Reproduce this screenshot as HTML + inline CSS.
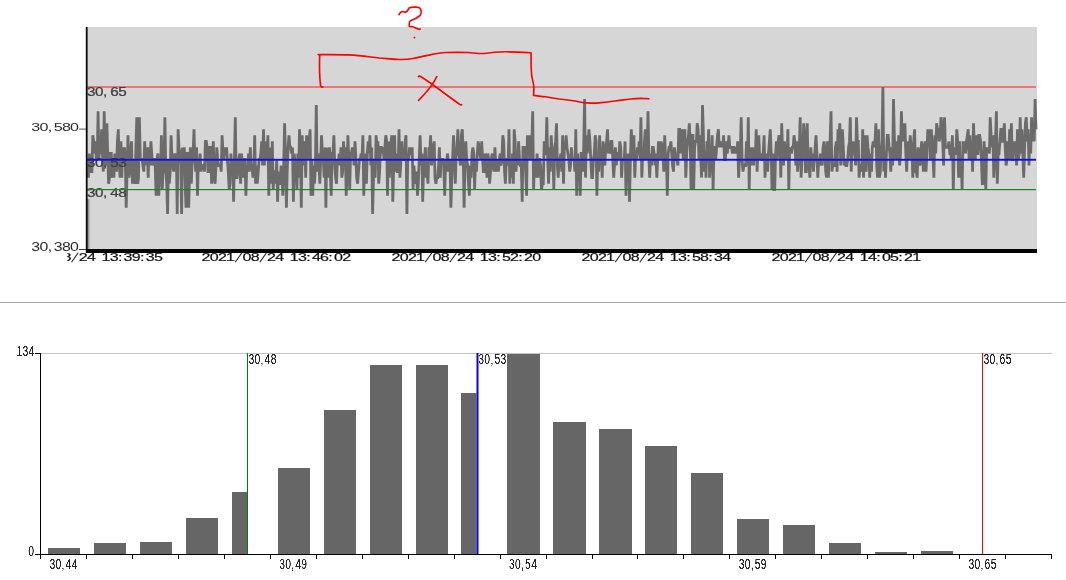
<!DOCTYPE html>
<html><head><meta charset="utf-8"><title>chart</title>
<style>
html,body{margin:0;padding:0;background:#fff;}
body{width:1066px;height:580px;overflow:hidden;font-family:"Liberation Sans",sans-serif;}
svg{display:block;position:absolute;left:0;top:0;}
text{font-family:"Liberation Sans",sans-serif;}
</style></head><body>
<svg width="1066" height="580" viewBox="0 0 1066 580">
<defs>
<clipPath id="cl"><rect x="67.2" y="245" width="1000" height="30"/></clipPath>
<linearGradient id="ag" x1="0" x2="1" y1="0" y2="0"><stop offset="0" stop-color="#000" stop-opacity="0.62"/><stop offset="0.45" stop-color="#000" stop-opacity="0.2"/><stop offset="1" stop-color="#000" stop-opacity="0"/></linearGradient>
<filter id="cr" x="-5%" y="-20%" width="110%" height="140%"><feComponentTransfer><feFuncA type="linear" slope="2.6" intercept="-0.62"/></feComponentTransfer></filter>
<filter id="bl" x="-5%" y="-50%" width="110%" height="200%"><feGaussianBlur stdDeviation="0.35"/></filter>
</defs>
<!-- top chart -->
<rect x="86" y="27" width="951" height="223" fill="#d6d6d6"/>
<line x1="87" y1="87.1" x2="1036" y2="87.1" stroke="#ec5a5a" stroke-width="1.5"/>
<polyline points="87.5,171.6 88.4,177.6 89.3,153.5 90.1,171.6 91.0,171.6 91.9,171.6 92.8,135.3 93.7,141.4 94.5,153.5 95.4,141.4 96.3,159.5 97.2,159.5 98.1,111.2 98.9,159.5 99.8,147.4 100.7,153.5 101.6,129.3 102.5,153.5 103.3,171.6 104.2,111.2 105.1,159.5 106.0,165.5 106.9,123.3 107.7,153.5 108.6,183.7 109.5,177.6 110.4,153.5 111.3,153.5 112.1,177.6 113.0,159.5 113.9,177.6 114.8,153.5 115.7,159.5 116.5,171.6 117.4,141.4 118.3,129.3 119.2,165.5 120.1,177.6 120.9,141.4 121.8,177.6 122.7,147.4 123.6,153.5 124.5,147.4 125.3,159.5 126.2,207.8 127.1,171.6 128.0,135.3 128.9,177.6 129.7,171.6 130.6,153.5 131.5,141.4 132.4,183.7 133.3,159.5 134.1,177.6 135.0,183.7 135.9,147.4 136.8,117.2 137.7,183.7 138.5,177.6 139.4,117.2 140.3,159.5 141.2,159.5 142.1,159.5 142.9,165.5 143.8,171.6 144.7,141.4 145.6,165.5 146.5,147.4 147.3,153.5 148.2,177.6 149.1,147.4 150.0,165.5 150.9,141.4 151.7,153.5 152.6,165.5 153.5,159.5 154.4,159.5 155.2,165.5 156.1,195.7 157.0,159.5 157.9,153.5 158.8,195.7 159.6,177.6 160.5,171.6 161.4,135.3 162.3,189.7 163.2,165.5 164.0,165.5 164.9,117.2 165.8,171.6 166.7,183.7 167.6,213.9 168.4,159.5 169.3,183.7 170.2,171.6 171.1,135.3 172.0,159.5 172.8,165.5 173.7,171.6 174.6,153.5 175.5,159.5 176.4,153.5 177.2,213.9 178.1,129.3 179.0,147.4 179.9,153.5 180.8,165.5 181.6,213.9 182.5,147.4 183.4,153.5 184.3,147.4 185.2,183.7 186.0,207.8 186.9,153.5 187.8,153.5 188.7,207.8 189.6,171.6 190.4,147.4 191.3,183.7 192.2,159.5 193.1,153.5 194.0,129.3 194.8,159.5 195.7,171.6 196.6,147.4 197.5,195.7 198.4,159.5 199.2,171.6 200.1,153.5 201.0,171.6 201.9,165.5 202.8,165.5 203.6,165.5 204.5,171.6 205.4,141.4 206.3,141.4 207.2,147.4 208.0,171.6 208.9,171.6 209.8,147.4 210.7,147.4 211.6,183.7 212.4,165.5 213.3,141.4 214.2,177.6 215.1,183.7 216.0,165.5 216.8,147.4 217.7,159.5 218.6,165.5 219.5,165.5 220.4,165.5 221.2,171.6 222.1,135.3 223.0,153.5 223.9,159.5 224.8,147.4 225.6,153.5 226.5,147.4 227.4,159.5 228.3,171.6 229.2,189.7 230.0,183.7 230.9,153.5 231.8,171.6 232.7,159.5 233.6,201.8 234.4,159.5 235.3,117.2 236.2,177.6 237.1,177.6 238.0,171.6 238.8,159.5 239.7,153.5 240.6,183.7 241.5,153.5 242.4,165.5 243.2,177.6 244.1,159.5 245.0,159.5 245.9,195.7 246.8,165.5 247.6,171.6 248.5,153.5 249.4,171.6 250.3,147.4 251.2,165.5 252.0,165.5 252.9,177.6 253.8,171.6 254.7,135.3 255.6,183.7 256.4,165.5 257.3,183.7 258.2,171.6 259.1,159.5 260.0,159.5 260.8,153.5 261.7,141.4 262.6,165.5 263.5,129.3 264.4,165.5 265.2,141.4 266.1,147.4 267.0,159.5 267.9,135.3 268.8,195.7 269.6,147.4 270.5,159.5 271.4,183.7 272.3,141.4 273.2,189.7 274.0,171.6 274.9,171.6 275.8,183.7 276.7,159.5 277.6,201.8 278.4,171.6 279.3,183.7 280.2,183.7 281.1,165.5 282.0,171.6 282.8,195.7 283.7,165.5 284.6,123.3 285.5,153.5 286.4,207.8 287.2,171.6 288.1,147.4 289.0,135.3 289.9,147.4 290.8,147.4 291.6,153.5 292.5,147.4 293.4,201.8 294.3,153.5 295.1,165.5 296.0,165.5 296.9,189.7 297.8,153.5 298.7,177.6 299.5,129.3 300.4,147.4 301.3,207.8 302.2,135.3 303.1,165.5 303.9,147.4 304.8,141.4 305.7,177.6 306.6,135.3 307.5,159.5 308.3,153.5 309.2,141.4 310.1,129.3 311.0,195.7 311.9,159.5 312.7,195.7 313.6,165.5 314.5,183.7 315.4,165.5 316.3,105.1 317.1,171.6 318.0,153.5 318.9,159.5 319.8,183.7 320.7,159.5 321.5,135.3 322.4,153.5 323.3,159.5 324.2,177.6 325.1,147.4 325.9,207.8 326.8,147.4 327.7,177.6 328.6,159.5 329.5,147.4 330.3,171.6 331.2,195.7 332.1,153.5 333.0,153.5 333.9,135.3 334.7,165.5 335.6,177.6 336.5,183.7 337.4,159.5 338.3,165.5 339.1,153.5 340.0,165.5 340.9,147.4 341.8,177.6 342.7,171.6 343.5,141.4 344.4,159.5 345.3,147.4 346.2,195.7 347.1,171.6 347.9,135.3 348.8,159.5 349.7,189.7 350.6,153.5 351.5,153.5 352.3,147.4 353.2,153.5 354.1,165.5 355.0,141.4 355.9,159.5 356.7,177.6 357.6,183.7 358.5,171.6 359.4,159.5 360.3,159.5 361.1,153.5 362.0,159.5 362.9,135.3 363.8,195.7 364.7,153.5 365.5,159.5 366.4,183.7 367.3,153.5 368.2,141.4 369.1,153.5 369.9,135.3 370.8,165.5 371.7,147.4 372.6,213.9 373.5,177.6 374.3,159.5 375.2,177.6 376.1,135.3 377.0,147.4 377.9,141.4 378.7,183.7 379.6,171.6 380.5,147.4 381.4,147.4 382.3,153.5 383.1,147.4 384.0,159.5 384.9,147.4 385.8,135.3 386.7,141.4 387.5,195.7 388.4,141.4 389.3,177.6 390.2,159.5 391.1,141.4 391.9,135.3 392.8,201.8 393.7,165.5 394.6,135.3 395.5,171.6 396.3,153.5 397.2,171.6 398.1,171.6 399.0,129.3 399.9,177.6 400.7,165.5 401.6,141.4 402.5,159.5 403.4,159.5 404.3,159.5 405.1,141.4 406.0,135.3 406.9,213.9 407.8,153.5 408.7,159.5 409.5,147.4 410.4,153.5 411.3,153.5 412.2,147.4 413.1,189.7 413.9,165.5 414.8,177.6 415.7,183.7 416.6,171.6 417.5,195.7 418.3,183.7 419.2,159.5 420.1,135.3 421.0,165.5 421.9,153.5 422.7,201.8 423.6,165.5 424.5,159.5 425.4,147.4 426.2,177.6 427.1,171.6 428.0,183.7 428.9,147.4 429.8,153.5 430.6,135.3 431.5,165.5 432.4,153.5 433.3,147.4 434.2,141.4 435.0,177.6 435.9,183.7 436.8,177.6 437.7,177.6 438.6,165.5 439.4,147.4 440.3,177.6 441.2,159.5 442.1,159.5 443.0,159.5 443.8,165.5 444.7,195.7 445.6,159.5 446.5,171.6 447.4,153.5 448.2,159.5 449.1,171.6 450.0,159.5 450.9,207.8 451.8,177.6 452.6,159.5 453.5,135.3 454.4,153.5 455.3,183.7 456.2,153.5 457.0,147.4 457.9,129.3 458.8,153.5 459.7,159.5 460.6,165.5 461.4,135.3 462.3,129.3 463.2,153.5 464.1,207.8 465.0,159.5 465.8,141.4 466.7,159.5 467.6,165.5 468.5,183.7 469.4,195.7 470.2,165.5 471.1,177.6 472.0,153.5 472.9,147.4 473.8,153.5 474.6,189.7 475.5,159.5 476.4,171.6 477.3,153.5 478.2,141.4 479.0,147.4 479.9,153.5 480.8,159.5 481.7,141.4 482.6,159.5 483.4,171.6 484.3,171.6 485.2,153.5 486.1,159.5 487.0,177.6 487.8,153.5 488.7,159.5 489.6,183.7 490.5,171.6 491.4,159.5 492.2,153.5 493.1,165.5 494.0,171.6 494.9,147.4 495.8,165.5 496.6,171.6 497.5,159.5 498.4,171.6 499.3,159.5 500.2,153.5 501.0,165.5 501.9,159.5 502.8,135.3 503.7,141.4 504.6,171.6 505.4,183.7 506.3,159.5 507.2,159.5 508.1,165.5 509.0,129.3 509.8,183.7 510.7,159.5 511.6,177.6 512.5,153.5 513.4,183.7 514.2,129.3 515.1,141.4 516.0,171.6 516.9,153.5 517.8,165.5 518.6,141.4 519.5,159.5 520.4,165.5 521.3,165.5 522.2,201.8 523.0,147.4 523.9,147.4 524.8,147.4 525.7,171.6 526.6,195.7 527.4,135.3 528.3,147.4 529.2,135.3 530.1,159.5 531.0,153.5 531.8,147.4 532.7,111.2 533.6,189.7 534.5,159.5 535.4,177.6 536.2,171.6 537.1,153.5 538.0,177.6 538.9,159.5 539.8,159.5 540.6,165.5 541.5,189.7 542.4,183.7 543.3,183.7 544.2,141.4 545.0,153.5 545.9,153.5 546.8,117.2 547.7,159.5 548.6,183.7 549.4,147.4 550.3,171.6 551.2,135.3 552.1,153.5 553.0,153.5 553.8,189.7 554.7,147.4 555.6,141.4 556.5,123.3 557.4,165.5 558.2,177.6 559.1,159.5 560.0,159.5 560.9,153.5 561.8,171.6 562.6,135.3 563.5,183.7 564.4,147.4 565.3,147.4 566.1,135.3 567.0,147.4 567.9,153.5 568.8,159.5 569.7,171.6 570.5,165.5 571.4,147.4 572.3,159.5 573.2,159.5 574.1,159.5 574.9,171.6 575.8,129.3 576.7,195.7 577.6,153.5 578.5,165.5 579.3,159.5 580.2,195.7 581.1,153.5 582.0,153.5 582.9,171.6 583.7,147.4 584.6,99.1 585.5,177.6 586.4,135.3 587.3,153.5 588.1,141.4 589.0,129.3 589.9,141.4 590.8,159.5 591.7,177.6 592.5,177.6 593.4,159.5 594.3,153.5 595.2,135.3 596.1,141.4 596.9,195.7 597.8,153.5 598.7,171.6 599.6,135.3 600.5,159.5 601.3,153.5 602.2,177.6 603.1,141.4 604.0,159.5 604.9,165.5 605.7,147.4 606.6,141.4 607.5,129.3 608.4,153.5 609.3,147.4 610.1,153.5 611.0,141.4 611.9,141.4 612.8,159.5 613.7,177.6 614.5,165.5 615.4,147.4 616.3,165.5 617.2,153.5 618.1,153.5 618.9,159.5 619.8,141.4 620.7,147.4 621.6,177.6 622.5,159.5 623.3,159.5 624.2,159.5 625.1,141.4 626.0,195.7 626.9,153.5 627.7,171.6 628.6,153.5 629.5,201.8 630.4,159.5 631.3,129.3 632.1,147.4 633.0,159.5 633.9,135.3 634.8,177.6 635.7,153.5 636.5,159.5 637.4,147.4 638.3,153.5 639.2,141.4 640.1,159.5 640.9,117.2 641.8,177.6 642.7,153.5 643.6,159.5 644.5,141.4 645.3,129.3 646.2,159.5 647.1,153.5 648.0,111.2 648.9,159.5 649.7,177.6 650.6,153.5 651.5,165.5 652.4,147.4 653.3,147.4 654.1,153.5 655.0,165.5 655.9,153.5 656.8,177.6 657.7,159.5 658.5,141.4 659.4,153.5 660.3,159.5 661.2,141.4 662.1,147.4 662.9,153.5 663.8,171.6 664.7,135.3 665.6,159.5 666.5,159.5 667.3,195.7 668.2,153.5 669.1,147.4 670.0,147.4 670.9,141.4 671.7,153.5 672.6,165.5 673.5,171.6 674.4,147.4 675.3,153.5 676.1,159.5 677.0,159.5 677.9,165.5 678.8,129.3 679.7,129.3 680.5,153.5 681.4,135.3 682.3,129.3 683.2,159.5 684.1,135.3 684.9,129.3 685.8,177.6 686.7,153.5 687.6,141.4 688.5,135.3 689.3,123.3 690.2,141.4 691.1,189.7 692.0,135.3 692.9,135.3 693.7,189.7 694.6,147.4 695.5,141.4 696.4,141.4 697.2,123.3 698.1,129.3 699.0,159.5 699.9,135.3 700.8,159.5 701.6,177.6 702.5,105.1 703.4,135.3 704.3,171.6 705.2,153.5 706.0,177.6 706.9,141.4 707.8,153.5 708.7,129.3 709.6,177.6 710.4,165.5 711.3,159.5 712.2,135.3 713.1,189.7 714.0,147.4 714.8,147.4 715.7,159.5 716.6,147.4 717.5,135.3 718.4,129.3 719.2,147.4 720.1,141.4 721.0,147.4 721.9,141.4 722.8,147.4 723.6,135.3 724.5,159.5 725.4,159.5 726.3,141.4 727.2,153.5 728.0,147.4 728.9,135.3 729.8,147.4 730.7,147.4 731.6,147.4 732.4,153.5 733.3,147.4 734.2,147.4 735.1,153.5 736.0,147.4 736.8,153.5 737.7,141.4 738.6,177.6 739.5,159.5 740.4,147.4 741.2,117.2 742.1,159.5 743.0,171.6 743.9,165.5 744.8,165.5 745.6,165.5 746.5,141.4 747.4,165.5 748.3,117.2 749.2,189.7 750.0,147.4 750.9,165.5 751.8,153.5 752.7,147.4 753.6,165.5 754.4,147.4 755.3,159.5 756.2,129.3 757.1,171.6 758.0,147.4 758.8,135.3 759.7,159.5 760.6,153.5 761.5,159.5 762.4,159.5 763.2,153.5 764.1,135.3 765.0,177.6 765.9,159.5 766.8,153.5 767.6,171.6 768.5,153.5 769.4,141.4 770.3,129.3 771.2,153.5 772.0,189.7 772.9,153.5 773.8,189.7 774.7,189.7 775.6,153.5 776.4,141.4 777.3,159.5 778.2,141.4 779.1,135.3 780.0,141.4 780.8,177.6 781.7,123.3 782.6,153.5 783.5,165.5 784.4,141.4 785.2,159.5 786.1,147.4 787.0,159.5 787.9,129.3 788.8,189.7 789.6,153.5 790.5,147.4 791.4,153.5 792.3,147.4 793.2,147.4 794.0,135.3 794.9,141.4 795.8,165.5 796.7,141.4 797.6,171.6 798.4,159.5 799.3,147.4 800.2,117.2 801.1,177.6 802.0,159.5 802.8,153.5 803.7,123.3 804.6,135.3 805.5,171.6 806.4,171.6 807.2,123.3 808.1,165.5 809.0,165.5 809.9,177.6 810.8,147.4 811.6,165.5 812.5,153.5 813.4,171.6 814.3,159.5 815.2,147.4 816.0,135.3 816.9,153.5 817.8,177.6 818.7,159.5 819.6,165.5 820.4,153.5 821.3,159.5 822.2,165.5 823.1,147.4 824.0,141.4 824.8,147.4 825.7,171.6 826.6,177.6 827.5,141.4 828.4,177.6 829.2,147.4 830.1,141.4 831.0,111.2 831.9,171.6 832.8,165.5 833.6,165.5 834.5,165.5 835.4,147.4 836.3,141.4 837.1,171.6 838.0,129.3 838.9,135.3 839.8,123.3 840.7,165.5 841.5,141.4 842.4,129.3 843.3,147.4 844.2,165.5 845.1,159.5 845.9,165.5 846.8,165.5 847.7,159.5 848.6,147.4 849.5,141.4 850.3,117.2 851.2,171.6 852.1,147.4 853.0,141.4 853.9,147.4 854.7,153.5 855.6,165.5 856.5,117.2 857.4,141.4 858.3,141.4 859.1,177.6 860.0,165.5 860.9,165.5 861.8,171.6 862.7,129.3 863.5,177.6 864.4,153.5 865.3,135.3 866.2,171.6 867.1,135.3 867.9,147.4 868.8,153.5 869.7,177.6 870.6,153.5 871.5,171.6 872.3,147.4 873.2,141.4 874.1,147.4 875.0,141.4 875.9,123.3 876.7,165.5 877.6,177.6 878.5,129.3 879.4,177.6 880.3,171.6 881.1,153.5 882.0,141.4 882.9,87.0 883.8,171.6 884.7,153.5 885.5,177.6 886.4,153.5 887.3,135.3 888.2,135.3 889.1,147.4 889.9,153.5 890.8,171.6 891.7,147.4 892.6,165.5 893.5,99.1 894.3,135.3 895.2,159.5 896.1,147.4 897.0,141.4 897.9,159.5 898.7,135.3 899.6,165.5 900.5,153.5 901.4,111.2 902.3,141.4 903.1,123.3 904.0,141.4 904.9,123.3 905.8,153.5 906.7,171.6 907.5,141.4 908.4,147.4 909.3,159.5 910.2,135.3 911.1,147.4 911.9,147.4 912.8,177.6 913.7,141.4 914.6,129.3 915.5,171.6 916.3,171.6 917.2,177.6 918.1,147.4 919.0,153.5 919.9,165.5 920.7,159.5 921.6,141.4 922.5,153.5 923.4,171.6 924.3,147.4 925.1,141.4 926.0,171.6 926.9,153.5 927.8,129.3 928.7,141.4 929.5,129.3 930.4,159.5 931.3,129.3 932.2,147.4 933.1,159.5 933.9,177.6 934.8,135.3 935.7,153.5 936.6,123.3 937.5,129.3 938.3,129.3 939.2,141.4 940.1,135.3 941.0,117.2 941.9,123.3 942.7,141.4 943.6,165.5 944.5,117.2 945.4,147.4 946.3,147.4 947.1,147.4 948.0,147.4 948.9,141.4 949.8,153.5 950.7,153.5 951.5,159.5 952.4,135.3 953.3,189.7 954.2,147.4 955.1,153.5 955.9,153.5 956.8,129.3 957.7,141.4 958.6,177.6 959.5,141.4 960.3,177.6 961.2,159.5 962.1,189.7 963.0,141.4 963.9,153.5 964.7,141.4 965.6,153.5 966.5,141.4 967.4,135.3 968.2,129.3 969.1,159.5 970.0,135.3 970.9,159.5 971.8,141.4 972.6,171.6 973.5,123.3 974.4,147.4 975.3,159.5 976.2,135.3 977.0,153.5 977.9,153.5 978.8,135.3 979.7,135.3 980.6,141.4 981.4,159.5 982.3,183.7 983.2,183.7 984.1,141.4 985.0,159.5 985.8,189.7 986.7,147.4 987.6,153.5 988.5,147.4 989.4,153.5 990.2,117.2 991.1,135.3 992.0,147.4 992.9,135.3 993.8,177.6 994.6,159.5 995.5,141.4 996.4,111.2 997.3,183.7 998.2,153.5 999.0,153.5 999.9,141.4 1000.8,129.3 1001.7,129.3 1002.6,141.4 1003.4,141.4 1004.3,123.3 1005.2,147.4 1006.1,165.5 1007.0,159.5 1007.8,141.4 1008.7,159.5 1009.6,129.3 1010.5,159.5 1011.4,123.3 1012.2,159.5 1013.1,159.5 1014.0,141.4 1014.9,153.5 1015.8,141.4 1016.6,165.5 1017.5,129.3 1018.4,159.5 1019.3,153.5 1020.2,117.2 1021.0,153.5 1021.9,129.3 1022.8,153.5 1023.7,177.6 1024.6,147.4 1025.4,123.3 1026.3,117.2 1027.2,141.4 1028.1,129.3 1029.0,165.5 1029.8,135.3 1030.7,153.5 1031.6,117.2 1032.5,141.4 1033.4,123.3 1034.2,141.4 1035.1,99.1 1036.0,129.3" fill="none" stroke="#6b6b6b" stroke-width="2.8" stroke-linejoin="miter" stroke-miterlimit="2"/>
<g font-size="11" fill="#3e3e3e" stroke="#3e3e3e" stroke-width="0.25" filter="url(#bl)">
<text transform="translate(86.90,95.70) scale(1.260,1)" font-size="12.1">3</text><text transform="translate(94.95,95.70) scale(1.260,1)" font-size="12.1">0</text><text transform="translate(103.00,95.70) scale(1.260,1)" font-size="12.1">,</text><text transform="translate(110.30,95.70) scale(1.260,1)" font-size="12.1">6</text><text transform="translate(118.35,95.70) scale(1.260,1)" font-size="12.1">5</text>
<text transform="translate(86.90,167.30) scale(1.260,1)" font-size="12.1">3</text><text transform="translate(94.95,167.30) scale(1.260,1)" font-size="12.1">0</text><text transform="translate(103.00,167.30) scale(1.260,1)" font-size="12.1">,</text><text transform="translate(110.30,167.30) scale(1.260,1)" font-size="12.1">5</text><text transform="translate(118.35,167.30) scale(1.260,1)" font-size="12.1">3</text>
<text transform="translate(86.90,197.40) scale(1.260,1)" font-size="12.1">3</text><text transform="translate(94.95,197.40) scale(1.260,1)" font-size="12.1">0</text><text transform="translate(103.00,197.40) scale(1.260,1)" font-size="12.1">,</text><text transform="translate(110.30,197.40) scale(1.260,1)" font-size="12.1">4</text><text transform="translate(118.35,197.40) scale(1.260,1)" font-size="12.1">8</text>
</g>
<rect x="87" y="158.8" width="949" height="1.9" fill="#1010ea"/>
<rect x="87" y="189" width="949" height="1.2" fill="#158a15"/>
<rect x="87.3" y="199" width="3.4" height="50" fill="url(#ag)"/>
<rect x="85.8" y="27" width="1.8" height="226" fill="#0a0a0a"/>
<rect x="86" y="249" width="951" height="4" fill="#000"/>
<rect x="79" y="128.6" width="7" height="1" fill="#555"/>
<rect x="79" y="249" width="7" height="1" fill="#333"/>
<g font-size="11" fill="#2a2a2a" filter="url(#bl)">
<text transform="translate(31.30,130.50) scale(1.560,1)" font-size="10.3">3</text><text transform="translate(39.50,130.50) scale(1.560,1)" font-size="10.3">0</text><text transform="translate(47.70,130.50) scale(1.560,1)" font-size="10.3">,</text><text transform="translate(53.70,130.50) scale(1.560,1)" font-size="10.3">5</text><text transform="translate(61.90,130.50) scale(1.560,1)" font-size="10.3">8</text><text transform="translate(70.10,130.50) scale(1.560,1)" font-size="10.3">0</text>
<text transform="translate(31.30,250.90) scale(1.270,1)" font-size="12.5">3</text><text transform="translate(39.50,250.90) scale(1.270,1)" font-size="12.5">0</text><text transform="translate(47.70,250.90) scale(1.270,1)" font-size="12.5">,</text><text transform="translate(53.70,250.90) scale(1.270,1)" font-size="12.5">3</text><text transform="translate(61.90,250.90) scale(1.270,1)" font-size="12.5">8</text><text transform="translate(70.10,250.90) scale(1.270,1)" font-size="12.5">0</text>
</g>
<g font-size="11" fill="#101010" stroke="#101010" stroke-width="0.18" clip-path="url(#cl)" filter="url(#bl)">
<text transform="translate(13.20,260.70) scale(1.560,1)" font-size="10.3">2</text><text transform="translate(21.40,260.70) scale(1.560,1)" font-size="10.3">0</text><text transform="translate(29.60,260.70) scale(1.560,1)" font-size="10.3">2</text><text transform="translate(37.80,260.70) scale(1.560,1)" font-size="10.3">1</text><line x1="53.60" y1="252.80" x2="46.90" y2="262.30" stroke="#222" stroke-width="1.1"/><text transform="translate(54.20,260.70) scale(1.560,1)" font-size="10.3">0</text><text transform="translate(62.40,260.70) scale(1.560,1)" font-size="10.3">8</text><line x1="78.20" y1="252.80" x2="71.50" y2="262.30" stroke="#222" stroke-width="1.1"/><text transform="translate(78.80,260.70) scale(1.560,1)" font-size="10.3">2</text><text transform="translate(87.00,260.70) scale(1.560,1)" font-size="10.3">4</text><text transform="translate(101.50,260.70) scale(1.560,1)" font-size="10.3">1</text><text transform="translate(109.70,260.70) scale(1.560,1)" font-size="10.3">3</text><text transform="translate(117.90,260.70) scale(1.560,1)" font-size="10.3">:</text><text transform="translate(123.60,260.70) scale(1.560,1)" font-size="10.3">3</text><text transform="translate(131.80,260.70) scale(1.560,1)" font-size="10.3">9</text><text transform="translate(140.00,260.70) scale(1.560,1)" font-size="10.3">:</text><text transform="translate(145.70,260.70) scale(1.560,1)" font-size="10.3">3</text><text transform="translate(153.90,260.70) scale(1.560,1)" font-size="10.3">5</text>
<text transform="translate(201.50,260.70) scale(1.560,1)" font-size="10.3">2</text><text transform="translate(209.70,260.70) scale(1.560,1)" font-size="10.3">0</text><text transform="translate(217.90,260.70) scale(1.560,1)" font-size="10.3">2</text><text transform="translate(226.10,260.70) scale(1.560,1)" font-size="10.3">1</text><line x1="241.90" y1="252.80" x2="235.20" y2="262.30" stroke="#222" stroke-width="1.1"/><text transform="translate(242.50,260.70) scale(1.560,1)" font-size="10.3">0</text><text transform="translate(250.70,260.70) scale(1.560,1)" font-size="10.3">8</text><line x1="266.50" y1="252.80" x2="259.80" y2="262.30" stroke="#222" stroke-width="1.1"/><text transform="translate(267.10,260.70) scale(1.560,1)" font-size="10.3">2</text><text transform="translate(275.30,260.70) scale(1.560,1)" font-size="10.3">4</text><text transform="translate(289.80,260.70) scale(1.560,1)" font-size="10.3">1</text><text transform="translate(298.00,260.70) scale(1.560,1)" font-size="10.3">3</text><text transform="translate(306.20,260.70) scale(1.560,1)" font-size="10.3">:</text><text transform="translate(311.90,260.70) scale(1.560,1)" font-size="10.3">4</text><text transform="translate(320.10,260.70) scale(1.560,1)" font-size="10.3">6</text><text transform="translate(328.30,260.70) scale(1.560,1)" font-size="10.3">:</text><text transform="translate(334.00,260.70) scale(1.560,1)" font-size="10.3">0</text><text transform="translate(342.20,260.70) scale(1.560,1)" font-size="10.3">2</text>
<text transform="translate(391.50,260.70) scale(1.560,1)" font-size="10.3">2</text><text transform="translate(399.70,260.70) scale(1.560,1)" font-size="10.3">0</text><text transform="translate(407.90,260.70) scale(1.560,1)" font-size="10.3">2</text><text transform="translate(416.10,260.70) scale(1.560,1)" font-size="10.3">1</text><line x1="431.90" y1="252.80" x2="425.20" y2="262.30" stroke="#222" stroke-width="1.1"/><text transform="translate(432.50,260.70) scale(1.560,1)" font-size="10.3">0</text><text transform="translate(440.70,260.70) scale(1.560,1)" font-size="10.3">8</text><line x1="456.50" y1="252.80" x2="449.80" y2="262.30" stroke="#222" stroke-width="1.1"/><text transform="translate(457.10,260.70) scale(1.560,1)" font-size="10.3">2</text><text transform="translate(465.30,260.70) scale(1.560,1)" font-size="10.3">4</text><text transform="translate(479.80,260.70) scale(1.560,1)" font-size="10.3">1</text><text transform="translate(488.00,260.70) scale(1.560,1)" font-size="10.3">3</text><text transform="translate(496.20,260.70) scale(1.560,1)" font-size="10.3">:</text><text transform="translate(501.90,260.70) scale(1.560,1)" font-size="10.3">5</text><text transform="translate(510.10,260.70) scale(1.560,1)" font-size="10.3">2</text><text transform="translate(518.30,260.70) scale(1.560,1)" font-size="10.3">:</text><text transform="translate(524.00,260.70) scale(1.560,1)" font-size="10.3">2</text><text transform="translate(532.20,260.70) scale(1.560,1)" font-size="10.3">0</text>
<text transform="translate(581.50,260.70) scale(1.560,1)" font-size="10.3">2</text><text transform="translate(589.70,260.70) scale(1.560,1)" font-size="10.3">0</text><text transform="translate(597.90,260.70) scale(1.560,1)" font-size="10.3">2</text><text transform="translate(606.10,260.70) scale(1.560,1)" font-size="10.3">1</text><line x1="621.90" y1="252.80" x2="615.20" y2="262.30" stroke="#222" stroke-width="1.1"/><text transform="translate(622.50,260.70) scale(1.560,1)" font-size="10.3">0</text><text transform="translate(630.70,260.70) scale(1.560,1)" font-size="10.3">8</text><line x1="646.50" y1="252.80" x2="639.80" y2="262.30" stroke="#222" stroke-width="1.1"/><text transform="translate(647.10,260.70) scale(1.560,1)" font-size="10.3">2</text><text transform="translate(655.30,260.70) scale(1.560,1)" font-size="10.3">4</text><text transform="translate(669.80,260.70) scale(1.560,1)" font-size="10.3">1</text><text transform="translate(678.00,260.70) scale(1.560,1)" font-size="10.3">3</text><text transform="translate(686.20,260.70) scale(1.560,1)" font-size="10.3">:</text><text transform="translate(691.90,260.70) scale(1.560,1)" font-size="10.3">5</text><text transform="translate(700.10,260.70) scale(1.560,1)" font-size="10.3">8</text><text transform="translate(708.30,260.70) scale(1.560,1)" font-size="10.3">:</text><text transform="translate(714.00,260.70) scale(1.560,1)" font-size="10.3">3</text><text transform="translate(722.20,260.70) scale(1.560,1)" font-size="10.3">4</text>
<text transform="translate(771.50,260.70) scale(1.560,1)" font-size="10.3">2</text><text transform="translate(779.70,260.70) scale(1.560,1)" font-size="10.3">0</text><text transform="translate(787.90,260.70) scale(1.560,1)" font-size="10.3">2</text><text transform="translate(796.10,260.70) scale(1.560,1)" font-size="10.3">1</text><line x1="811.90" y1="252.80" x2="805.20" y2="262.30" stroke="#222" stroke-width="1.1"/><text transform="translate(812.50,260.70) scale(1.560,1)" font-size="10.3">0</text><text transform="translate(820.70,260.70) scale(1.560,1)" font-size="10.3">8</text><line x1="836.50" y1="252.80" x2="829.80" y2="262.30" stroke="#222" stroke-width="1.1"/><text transform="translate(837.10,260.70) scale(1.560,1)" font-size="10.3">2</text><text transform="translate(845.30,260.70) scale(1.560,1)" font-size="10.3">4</text><text transform="translate(859.80,260.70) scale(1.560,1)" font-size="10.3">1</text><text transform="translate(868.00,260.70) scale(1.560,1)" font-size="10.3">4</text><text transform="translate(876.20,260.70) scale(1.560,1)" font-size="10.3">:</text><text transform="translate(881.90,260.70) scale(1.560,1)" font-size="10.3">0</text><text transform="translate(890.10,260.70) scale(1.560,1)" font-size="10.3">5</text><text transform="translate(898.30,260.70) scale(1.560,1)" font-size="10.3">:</text><text transform="translate(904.00,260.70) scale(1.560,1)" font-size="10.3">2</text><text transform="translate(912.20,260.70) scale(1.560,1)" font-size="10.3">1</text>
</g>
<!-- red annotations -->
<g fill="none" stroke="#ff0000" stroke-width="1.65" stroke-linecap="round" stroke-linejoin="round">
<path d="M399.0,14.7 C399.3,14.3 400.0,12.9 400.6,12.4 C401.2,11.9 401.9,11.6 402.5,11.5 C403.1,11.4 403.7,11.8 404.2,11.9 C404.7,12.0 405.1,12.5 405.6,12.3 C406.1,12.1 406.7,11.6 407.3,10.9 C407.9,10.2 408.5,8.7 409.1,8.1 C409.7,7.5 410.0,7.6 411.0,7.4 C412.0,7.2 413.6,7.1 414.9,7.1 C416.2,7.1 417.8,7.0 418.8,7.4 C419.8,7.8 420.3,8.5 420.7,9.3 C421.1,10.1 421.2,11.4 421.1,12.4 C421.0,13.4 421.0,14.2 420.3,15.1 C419.6,15.9 418.5,16.7 417.2,17.5 C415.9,18.3 413.8,19.2 412.6,19.8 C411.4,20.4 410.4,20.6 409.9,21.3 C409.3,22.0 409.4,23.1 409.3,24.0 C409.2,24.9 408.9,25.9 409.5,26.4 C410.1,26.9 411.4,26.5 412.6,26.8 C413.8,27.1 415.5,27.9 416.5,28.3 C417.5,28.7 418.2,29.2 418.8,29.3 C419.4,29.4 420.0,29.0 420.2,28.9"/>
<path d="M414.3,37.5 L414.7,37.7"/>
<path d="M322.8,86.8 C322,87.5 321.2,87.2 320.6,85.8 C319.6,78 319.4,63 319.7,55 "/>
<path d="M318.2,54.6 C330,54.7 340,54.5 349.6,54.9 C360,55.5 370,57 379.3,58 C387,58.6 393,59.5 399.1,59.5 C404,59.6 408,59.4 413,58.5 C419,57.4 423,56 428.8,55.1 C435,53.8 440,52.8 446.7,52.5 C455,52.2 461,52.3 468.5,52.5 C474,52.9 480,53.8 484.3,53.5 C489,52.8 495,52 505.8,51.8 C515,51.8 523,52.3 531.1,52.8 C531.1,57 531,61 531.1,65.7 C531.2,70 531.4,73 531.9,76.6 C532.6,80.5 533.8,84 533.9,87.5 C533.9,90 533.6,93 533.5,95.4 C537,95.9 541,96.2 545.4,96.8 C550,97.6 555,98.4 559.3,99 C565,99.6 570,100.2 575.1,101 C579,101.8 583,102.7 587,102.9 C591,103.2 595,103.2 598.9,102.9 C604,102.4 610,101.7 614.8,101 C620,100.4 625,99.6 630.6,99 C635,98.5 639,98.3 642.5,98.4 C645,98.4 647,98.6 648.9,98.8"/>
<path d="M436.8,76.5 C434,83 426,93 418.6,100.3"/>
<path d="M418.4,76.6 C419,75.8 420,75.9 421,76.8 C432,83.5 447,95.5 460.5,104.9 L461.6,104.7"/>
</g>
<!-- separator -->
<rect x="0" y="302" width="1066" height="1" fill="#a8a8a8"/>
<!-- histogram -->
<rect x="41" y="353" width="1011" height="1" fill="#c4c4c4"/>
<g fill="#666666">
<rect x="48.0" y="548" width="32.0" height="6"/><rect x="94.0" y="543" width="32.0" height="11"/><rect x="140.0" y="542" width="32.0" height="12"/><rect x="186.0" y="518" width="32.0" height="36"/><rect x="232.0" y="492" width="15.0" height="62"/><rect x="278.0" y="468" width="32.0" height="86"/><rect x="324.0" y="410" width="32.0" height="144"/><rect x="370.0" y="365" width="32.0" height="189"/><rect x="416.0" y="365" width="32.0" height="189"/><rect x="461.0" y="393" width="15.5" height="161"/><rect x="507.0" y="354" width="33.0" height="200"/><rect x="553.0" y="422" width="33.0" height="132"/><rect x="599.0" y="429" width="33.0" height="125"/><rect x="645.0" y="446" width="32.0" height="108"/><rect x="691.0" y="473" width="32.0" height="81"/><rect x="737.0" y="519" width="32.0" height="35"/><rect x="783.0" y="525" width="32.0" height="29"/><rect x="829.0" y="543" width="32.0" height="11"/><rect x="875.0" y="552" width="32.0" height="2"/><rect x="921.0" y="551" width="32.0" height="3"/>
</g>
<rect x="247" y="353" width="1" height="201" fill="#008000"/>
<rect x="476.5" y="353" width="2" height="201" fill="#0000ff"/>
<rect x="982" y="353" width="1" height="201" fill="#ff0000"/>
<g fill="#000">
<rect x="40" y="353" width="1" height="206"/>
<rect x="35" y="353" width="6" height="1"/>
<rect x="35" y="554" width="1017" height="1"/>
<rect x="40" y="554" width="1" height="5"/><rect x="86" y="554" width="1" height="5"/><rect x="132" y="554" width="1" height="5"/><rect x="178" y="554" width="1" height="5"/><rect x="224" y="554" width="1" height="5"/><rect x="270" y="554" width="1" height="5"/><rect x="316" y="554" width="1" height="5"/><rect x="362" y="554" width="1" height="5"/><rect x="408" y="554" width="1" height="5"/><rect x="454" y="554" width="1" height="5"/><rect x="500" y="554" width="1" height="5"/><rect x="546" y="554" width="1" height="5"/><rect x="592" y="554" width="1" height="5"/><rect x="637" y="554" width="1" height="5"/><rect x="683" y="554" width="1" height="5"/><rect x="729" y="554" width="1" height="5"/><rect x="775" y="554" width="1" height="5"/><rect x="821" y="554" width="1" height="5"/><rect x="867" y="554" width="1" height="5"/><rect x="913" y="554" width="1" height="5"/><rect x="959" y="554" width="1" height="5"/><rect x="1005" y="554" width="1" height="5"/><rect x="1051" y="554" width="1" height="5"/>
</g>
<g font-size="14" fill="#262626" filter="url(#cr)">
<text transform="translate(16.50,356.00) scale(0.740,1)" font-size="14">1</text><text transform="translate(22.55,356.00) scale(0.740,1)" font-size="14">3</text><text transform="translate(28.60,356.00) scale(0.740,1)" font-size="14">4</text>
<text transform="translate(28.30,556.00) scale(0.740,1)" font-size="14">0</text>
<text transform="translate(248.50,364.30) scale(0.740,1)" font-size="14">3</text><text transform="translate(254.55,364.30) scale(0.740,1)" font-size="14">0</text><text transform="translate(260.60,364.30) scale(0.740,1)" font-size="14">,</text><text transform="translate(264.60,364.30) scale(0.740,1)" font-size="14">4</text><text transform="translate(270.65,364.30) scale(0.740,1)" font-size="14">8</text>
<text transform="translate(478.30,364.30) scale(0.740,1)" font-size="14">3</text><text transform="translate(484.35,364.30) scale(0.740,1)" font-size="14">0</text><text transform="translate(490.40,364.30) scale(0.740,1)" font-size="14">,</text><text transform="translate(494.40,364.30) scale(0.740,1)" font-size="14">5</text><text transform="translate(500.45,364.30) scale(0.740,1)" font-size="14">3</text>
<text transform="translate(983.50,364.30) scale(0.740,1)" font-size="14">3</text><text transform="translate(989.55,364.30) scale(0.740,1)" font-size="14">0</text><text transform="translate(995.60,364.30) scale(0.740,1)" font-size="14">,</text><text transform="translate(999.60,364.30) scale(0.740,1)" font-size="14">6</text><text transform="translate(1005.65,364.30) scale(0.740,1)" font-size="14">5</text>
<text transform="translate(49.50,569.30) scale(0.740,1)" font-size="14">3</text><text transform="translate(55.55,569.30) scale(0.740,1)" font-size="14">0</text><text transform="translate(61.60,569.30) scale(0.740,1)" font-size="14">,</text><text transform="translate(65.60,569.30) scale(0.740,1)" font-size="14">4</text><text transform="translate(71.65,569.30) scale(0.740,1)" font-size="14">4</text>
<text transform="translate(279.20,569.30) scale(0.740,1)" font-size="14">3</text><text transform="translate(285.25,569.30) scale(0.740,1)" font-size="14">0</text><text transform="translate(291.30,569.30) scale(0.740,1)" font-size="14">,</text><text transform="translate(295.30,569.30) scale(0.740,1)" font-size="14">4</text><text transform="translate(301.35,569.30) scale(0.740,1)" font-size="14">9</text>
<text transform="translate(509.00,569.30) scale(0.740,1)" font-size="14">3</text><text transform="translate(515.05,569.30) scale(0.740,1)" font-size="14">0</text><text transform="translate(521.10,569.30) scale(0.740,1)" font-size="14">,</text><text transform="translate(525.10,569.30) scale(0.740,1)" font-size="14">5</text><text transform="translate(531.15,569.30) scale(0.740,1)" font-size="14">4</text>
<text transform="translate(738.70,569.30) scale(0.740,1)" font-size="14">3</text><text transform="translate(744.75,569.30) scale(0.740,1)" font-size="14">0</text><text transform="translate(750.80,569.30) scale(0.740,1)" font-size="14">,</text><text transform="translate(754.80,569.30) scale(0.740,1)" font-size="14">5</text><text transform="translate(760.85,569.30) scale(0.740,1)" font-size="14">9</text>
<text transform="translate(968.50,569.30) scale(0.740,1)" font-size="14">3</text><text transform="translate(974.55,569.30) scale(0.740,1)" font-size="14">0</text><text transform="translate(980.60,569.30) scale(0.740,1)" font-size="14">,</text><text transform="translate(984.60,569.30) scale(0.740,1)" font-size="14">6</text><text transform="translate(990.65,569.30) scale(0.740,1)" font-size="14">5</text>
</g>
</svg>
</body></html>
